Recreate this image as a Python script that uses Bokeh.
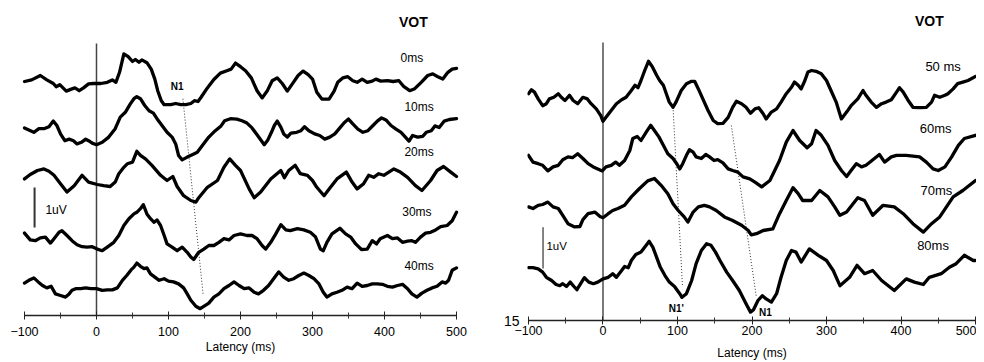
import numpy as np
from bokeh.plotting import figure
from bokeh.layouts import row
from bokeh.models import Range1d, FixedTicker, Label, LinearAxis
from bokeh.embed import file_html
from bokeh.resources import INLINE

# ---------------- data (latency in ms, amplitude in uV) ----------------
TICKS = [-100, 0, 100, 200, 300, 400, 500]
MINOR_TICKS = [-50, 50, 150, 250, 350, 450]

LEFT_LABELS = ["0ms", "10ms", "20ms", "30ms", "40ms"]
LEFT_OFFSETS = [5.83, 4.54, 3.375, 1.79, 0.71]

L0_t = [-100,-90,-78,-69,-60,-56,-51,-42,-35,-30,-24,-18,-11,-4,6,15,22,27,32,38,44,50,54,59,63,70,76,81,85,90,94,103,110,117,124,131,136,141,145,154,163,172,181,187,193,200,207,215,223,230,237,244,251,258,265,272,280,287,294,300,306,313,323,330,335,342,349,356,362,369,376,383,388,395,404,412,420,427,435,442,451,460,467,474,481,488,494,500]
L0_v = [0.02,0.06,0.17,0.06,-0.03,-0.11,-0.06,-0.22,-0.17,-0.14,-0.21,-0.14,-0.04,-0.03,-0.03,0,0.06,0,0.25,0.71,0.64,0.52,0.57,0.5,0.56,0.49,0.33,0.08,-0.21,-0.46,-0.56,-0.56,-0.53,-0.56,-0.56,-0.53,-0.46,-0.48,-0.38,-0.14,0.07,0.23,0.29,0.33,0.48,0.39,0.29,0.11,-0.21,-0.39,-0.22,0.04,0.11,-0.03,-0.22,-0.04,0.17,0.28,0.19,0.08,-0.25,-0.42,-0.42,-0.22,0,0.11,0.14,0.04,0,0.08,0,0.03,0.08,0.03,0.04,0.02,0.04,-0.11,-0.21,-0.16,0,0.17,0.21,0.14,0.08,0.25,0.33,0.35]

L10_t = [-100,-94,-87,-80,-73,-66,-60,-55,-50,-44,-38,-32,-27,-21,-15,-11,-6,0,8,17,26,33,40,47,52,56,61,67,73,79,84,91,98,105,110,114,119,126,133,140,147,156,165,173,178,186,195,202,209,216,223,229,233,238,243,247,251,256,260,265,270,278,284,289,295,303,310,317,324,331,338,344,350,356,363,370,377,384,390,396,402,409,416,423,429,434,439,446,453,458,465,470,476,483,490,500]
L10_v = [0.15,0.1,0.04,0.13,0.13,0.18,0.32,0.21,0,-0.17,-0.13,-0.17,-0.25,-0.21,-0.13,-0.17,-0.23,-0.27,-0.21,-0.08,0.13,0.42,0.54,0.75,0.88,0.93,0.88,0.71,0.58,0.52,0.38,0.21,0.04,-0.08,-0.25,-0.54,-0.65,-0.58,-0.52,-0.46,-0.29,-0.08,0.08,0.2,0.33,0.38,0.37,0.33,0.27,0.15,-0.02,-0.17,-0.27,-0.15,0.04,0.21,0.32,0.17,0,-0.08,0.02,0.04,0.08,0.18,0.08,0,-0.04,-0.13,-0.08,0,0.15,0.28,0.37,0.25,0.12,0.04,0.08,0.21,0.32,0.4,0.35,0.21,0.12,0.04,-0.08,-0.18,-0.04,-0.08,-0.06,0.04,0.08,0.2,0.16,0.32,0.36,0.38]

L20_t = [-100,-92,-82,-73,-66,-59,-50,-41,-31,-20,-11,1,10,19,26,31,38,43,50,56,61,68,77,89,98,106,112,121,131,138,142,154,168,177,185,193,200,212,219,228,242,256,261,267,276,283,293,300,306,316,325,334,347,355,362,371,378,385,392,399,413,422,432,443,452,464,473,482,492,500]
L20_v = [0.04,0.15,0.25,0.29,0.23,0.13,-0.08,-0.29,-0.13,0.13,-0.04,-0.1,-0.13,-0.15,-0.04,0.17,0.33,0.42,0.46,0.73,0.63,0.54,0.38,0.13,0,0.1,-0.15,-0.38,-0.5,-0.54,-0.43,-0.17,0,0.33,0.54,0.38,0.25,-0.21,-0.43,-0.29,0.04,0.25,0.07,0.25,0.38,0.17,0.13,0,-0.17,-0.38,-0.17,0.04,0.21,-0.04,-0.21,-0.08,0.13,0.08,0.17,0.13,0.29,0.21,0.08,-0.13,-0.25,0,0.25,0.35,0.21,0.1]

L30_t = [-100,-92,-85,-78,-71,-64,-59,-52,-48,-41,-34,-27,-20,-13,-6,1,8,15,24,31,38,45,52,56,61,65,70,75,80,84,89,94,98,105,112,119,126,131,135,142,149,156,163,170,177,184,191,200,209,216,223,230,235,242,249,256,263,269,279,288,297,304,311,315,320,327,338,346,353,360,368,376,383,389,394,404,411,418,425,432,438,443,450,457,464,471,478,487,494,500]
L30_v = [0.27,0.1,0.08,0.15,0.17,0.02,0.13,0.29,0.33,0.21,0.08,-0.02,-0.07,-0.08,-0.07,-0.13,-0.17,-0.08,0.04,0.21,0.46,0.63,0.75,0.79,0.88,0.98,0.75,0.63,0.54,0.6,0.46,0.21,0,-0.08,-0.17,-0.08,-0.21,-0.33,-0.39,-0.21,-0.13,-0.04,-0.04,0.04,0.13,0.1,0.21,0.25,0.21,0.21,0.13,-0.04,-0.13,0.04,0.25,0.48,0.35,0.33,0.38,0.35,0.29,0.18,-0.13,-0.17,0.04,0.25,0.39,0.25,0.17,0,-0.14,-0.13,0.08,0,0.13,0.21,0.13,0.15,0.04,0.07,0.08,0.04,0.17,0.27,0.29,0.35,0.43,0.46,0.58,0.79]

L40_t = [-100,-94,-87,-81,-75,-69,-63,-57,-50,-43,-38,-34,-29,-22,-15,-8,0,8,15,22,29,36,42,48,52,56,61,66,70,75,81,87,94,100,107,114,121,126,131,138,144,149,156,163,170,177,184,191,198,205,212,219,225,232,239,246,253,260,267,274,281,288,295,302,309,315,320,327,334,341,348,355,362,369,376,383,390,397,404,411,418,425,432,438,445,452,459,466,473,480,485,489,494,500]
L40_v = [0.1,0.17,0.23,0.13,0.04,-0.02,0.02,-0.17,-0.21,-0.25,-0.17,-0.08,-0.04,-0.04,-0.02,-0.04,-0.04,-0.08,-0.07,-0.07,-0.02,0.17,0.29,0.43,0.5,0.6,0.52,0.46,0.48,0.33,0.25,0.17,0.21,0.15,0.13,0.08,-0.02,-0.17,-0.33,-0.48,-0.54,-0.48,-0.4,-0.25,-0.17,-0.04,0.04,0.13,0.04,-0.04,-0.02,-0.13,-0.17,-0.08,0.04,0.21,0.38,0.25,0.17,0.21,0.29,0.35,0.29,0.21,0.08,-0.13,-0.25,-0.17,-0.13,-0.08,0,-0.04,0.1,0.02,0.04,0.08,0.08,0.07,0.02,0,0.04,0.07,-0.04,-0.17,-0.25,-0.15,-0.08,-0.02,0.02,0.13,0.1,0.17,0.42,0.48]

RIGHT_LABELS = ["50 ms", "60ms", "70ms", "80ms"]
RIGHT_OFFSETS = [5.5, 3.92, 2.67, 1.0]
PAGE_NUMBER = "15"

R50_t = [-100,-96,-92,-87,-81,-76,-72,-66,-60,-56,-51,-45,-40,-34,-27,-21,-16,-9,-3,0,4,11,18,25,31,38,43,47,51,56,61,66,72,76,81,85,89,94,98,105,112,119,123,128,134,141,148,154,161,168,174,179,186,192,198,204,209,215,219,226,233,239,246,253,257,262,266,271,275,280,286,293,300,306,313,320,327,333,342,349,353,360,367,374,380,387,394,398,403,409,416,425,434,441,445,452,459,463,470,476,483,490,500]
R50_v = [0.17,0.27,0.21,0.04,-0.13,-0.08,0.04,0.08,0.17,0.08,0,0.13,0,-0.08,0.08,0.04,-0.08,-0.21,-0.38,-0.52,-0.42,-0.25,-0.08,0.02,0.08,0.25,0.38,0.32,0.5,0.75,0.98,0.85,0.63,0.5,0.38,0.17,-0.04,-0.17,-0.04,0.25,0.42,0.48,0.48,0.29,0.04,-0.25,-0.5,-0.58,-0.57,-0.42,-0.17,-0.02,-0.08,-0.17,-0.32,-0.21,-0.18,-0.33,-0.46,-0.29,-0.21,-0.04,0.17,0.33,0.46,0.38,0.29,0.5,0.71,0.75,0.73,0.67,0.5,0.25,-0.04,-0.46,-0.29,-0.13,0.04,0.25,0.13,-0.04,-0.17,-0.08,-0.04,0.02,0.21,0.32,0.21,0.02,-0.17,-0.18,-0.17,-0.04,0.13,0.08,0.13,0.17,0.29,0.42,0.46,0.5,0.6]

R60_t = [-100,-94,-87,-81,-74,-67,-60,-54,-47,-41,-34,-27,-20,-13,-7,-1,4,11,17,22,29,36,40,46,51,58,64,69,75,81,87,94,99,103,107,112,116,121,125,132,138,143,149,154,161,168,174,181,188,197,204,213,224,237,246,255,264,274,280,286,293,302,311,320,327,333,340,347,353,361,371,378,387,394,407,425,434,443,450,459,468,477,485,500]
R60_v = [0.21,0.04,0,-0.04,-0.18,-0.08,-0.04,0.1,0.17,0.15,0.25,0.13,0,-0.08,-0.13,-0.18,-0.08,-0.04,0.04,-0.04,0.08,0.33,0.63,0.68,0.58,0.79,0.96,0.83,0.67,0.46,0.25,0.13,0,-0.13,0,0.21,0.35,0.29,0.17,0.13,0.23,0.17,0.08,0.1,0.02,-0.13,-0.17,-0.21,-0.33,-0.38,-0.46,-0.58,-0.42,0.08,0.54,0.83,0.58,0.4,0.5,0.83,0.71,0.46,0.08,-0.17,-0.32,-0.17,0,-0.08,-0.04,0.08,0.23,0.04,0.17,0.21,0.21,0.17,0.04,-0.13,-0.17,-0.08,0.17,0.46,0.63,0.71]

R70_t = [-100,-94,-87,-81,-74,-67,-60,-54,-47,-38,-31,-27,-20,-11,-4,0,7,13,20,29,38,49,60,69,78,87,94,101,109,114,121,128,136,143,152,163,174,186,195,199,206,215,228,237,246,255,262,268,280,291,302,311,318,327,342,351,362,376,391,403,416,430,441,452,461,470,483,500]
R70_v = [0.17,0.13,0.21,0.23,0.29,0.17,0.13,-0.04,-0.25,-0.33,-0.32,-0.15,0,0.04,-0.07,-0.1,0,0.08,0.13,0.21,0.42,0.63,0.82,0.88,0.71,0.5,0.25,0.08,-0.08,-0.21,0.04,0.17,0.21,0.17,0.08,-0.08,-0.17,-0.29,-0.42,-0.53,-0.5,-0.42,-0.38,0,0.33,0.65,0.5,0.33,0.33,0.58,0.42,0.17,-0.04,0.04,0.4,0.33,-0.04,0.21,0.17,0,-0.25,-0.46,-0.25,-0.08,0.17,0.42,0.58,0.83]

R80_t = [-100,-94,-87,-81,-76,-69,-63,-58,-54,-49,-44,-39,-35,-30,-25,-19,-13,-7,0,7,13,18,25,29,34,38,44,51,58,62,67,72,77,83,89,96,103,106,112,119,125,132,139,145,151,157,166,174,183,192,198,202,208,214,219,226,233,239,246,253,259,266,277,289,300,309,318,331,341,351,362,374,391,407,418,430,438,454,465,474,485,497,500]
R80_v = [0.32,0.32,0.29,0.21,0.08,0,-0.1,-0.13,-0.08,-0.15,-0.04,-0.15,-0.23,-0.08,0.07,-0.04,-0.08,-0.04,0.04,0.08,0.17,0.08,0.25,0.35,0.32,0.5,0.65,0.71,0.88,0.98,0.83,0.58,0.33,0.13,-0.04,-0.15,-0.33,-0.42,-0.33,0,0.42,0.75,0.92,0.88,0.71,0.5,0.21,0,-0.25,-0.58,-0.79,-0.73,-0.5,-0.38,-0.46,-0.54,-0.33,0.08,0.5,0.75,0.71,0.46,0.79,0.63,0.5,0.25,-0.13,0.08,0.38,0.17,0.25,0,-0.25,0.04,-0.04,-0.1,0.08,0.17,0.33,0.42,0.63,0.5,0.5]

LEFT_TRACES = [(L0_t, L0_v), (L10_t, L10_v), (L20_t, L20_v), (L30_t, L30_v), (L40_t, L40_v)]
RIGHT_TRACES = [(R50_t, R50_v), (R60_t, R60_v), (R70_t, R70_v), (R80_t, R80_v)]

FONT = "Liberation Sans"


def make_fig(frame_w, frame_h, xr, yr, mbl, mbr, mbb, standoff, lab_standoff):
    p = figure(frame_width=frame_w, frame_height=frame_h,
               x_range=Range1d(*xr), y_range=Range1d(*yr),
               output_backend="svg", toolbar_location=None,
               min_border_left=mbl, min_border_right=mbr,
               min_border_top=8, min_border_bottom=mbb,
               y_axis_location=None, background_fill_color="white",
               border_fill_color="white")
    p.grid.visible = False
    p.outline_line_color = None
    ax = p.xaxis[0]
    ax.bounds = (-100, 500)
    ax.ticker = FixedTicker(ticks=TICKS, minor_ticks=MINOR_TICKS)
    ax.axis_line_color = "#222222"
    ax.axis_line_width = 1.5
    ax.major_tick_line_color = "#222222"
    ax.minor_tick_line_color = "#333333"
    ax.major_tick_in = 4
    ax.major_tick_out = 4
    ax.minor_tick_in = 3
    ax.minor_tick_out = 3
    ax.major_label_text_font = FONT
    ax.major_label_text_font_size = "12.5px"
    ax.major_label_text_color = "black"
    ax.major_label_standoff = standoff
    ax.axis_label = "Latency (ms)"
    ax.axis_label_text_font = FONT
    ax.axis_label_text_font_size = "12px"
    ax.axis_label_text_font_style = "normal"
    ax.axis_label_text_color = "black"
    ax.axis_label_standoff = lab_standoff
    return p


def add_text(p, x, y, text, size, bold=False, align="center"):
    p.add_layout(Label(x=x, y=y, text=text, text_font=FONT, text_font_size=size,
                       text_font_style="bold" if bold else "normal",
                       text_align=align, text_baseline="middle", text_color="black"))


# ---------------- left panel ----------------
pl = make_fig(460, 307, (-119.44, 519.44), (0, 307 / 40), 10, 30, 30, 7, 1)
pl.segment(x0=[0], y0=[0], x1=[0], y1=[6.8], line_color="#444444", line_width=1.5)
pl.segment(x0=[-86], y0=[2.2], x1=[-86], y1=[3.2], line_color="#333333", line_width=2)
pl.segment(x0=[120], y0=[5.42], x1=[148], y1=[0.54], line_color="#333333",
           line_width=1, line_dash="1 2")
for (t, v), off in zip(LEFT_TRACES, LEFT_OFFSETS):
    pl.line(t, np.array(v) + off, line_color="black", line_width=3.3,
            line_join="round", line_cap="round")
add_text(pl, 440, 7.33, "VOT", "14px", bold=True)
for lab, (lx, ly) in zip(LEFT_LABELS, [(438, 6.44), (448, 5.22), (448, 4.08), (445, 2.58), (448, 1.23)]):
    add_text(pl, lx, ly, lab, "12px")
add_text(pl, 112, 5.72, "N1", "10px", bold=True)
add_text(pl, -71, 2.63, "1uV", "12px", align="left")

# ---------------- right panel ----------------
pr = make_fig(449, 312, (-101.34, 501.34), (0, 312 / 40), 27, 0, 30, 1, 8)
# page number shown as the single tick label of an otherwise invisible left axis
page_axis = LinearAxis(ticker=FixedTicker(ticks=[0]), major_label_overrides={0: PAGE_NUMBER},
                       axis_line_color=None, major_tick_line_color=None,
                       minor_tick_line_color=None, major_tick_in=0, major_tick_out=0,
                       minor_tick_in=0, minor_tick_out=0, major_label_standoff=8,
                       major_label_text_font=FONT, major_label_text_font_size="14px",
                       major_label_text_color="black")
pr.add_layout(page_axis, "left")
pr.segment(x0=[0], y0=[0], x1=[0], y1=[6.95], line_color="#222222", line_width=1.2)
pr.segment(x0=[-80.5], y0=[1.3], x1=[-80.5], y1=[2.33], line_color="#333333", line_width=1.2)
pr.segment(x0=[94, 172.3], y0=[5.33, 4.875], x1=[106.6, 205.9], y1=[0.875, 0.58],
           line_color="#333333", line_width=1, line_dash="1 2")
for (t, v), off in zip(RIGHT_TRACES, RIGHT_OFFSETS):
    pr.line(t, np.array(v) + off, line_color="black", line_width=3.3,
            line_join="round", line_cap="round")
add_text(pr, 438, 7.5, "VOT", "14px", bold=True)
for lab, (lx, ly) in zip(RIGHT_LABELS, [(456.5, 6.35), (446.6, 4.79), (447.5, 3.25), (443, 1.875)]):
    add_text(pr, lx, ly, lab, "13px")
add_text(pr, 98.5, 0.29, "N1'", "10px", bold=True)
add_text(pr, 218, 0.21, "N1", "10px", bold=True)
add_text(pr, -76, 1.875, "1uV", "11.5px", align="left")

layout = row(pl, pr)
open("out.html", "w").write(file_html(layout, INLINE))
